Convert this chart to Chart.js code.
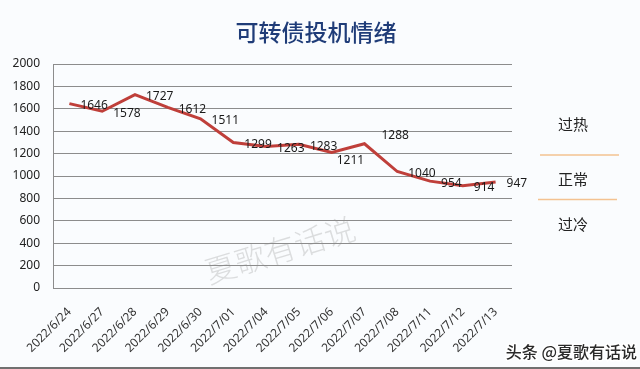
<!DOCTYPE html>
<html>
<head>
<meta charset="utf-8">
<script src="https://cdn.jsdelivr.net/npm/chart.js@4.4.1/dist/chart.umd.min.js"></script>
<style>
  html, body { margin: 0; padding: 0; background: #fafcfe; }
  #wrap { width: 640px; height: 369px; position: relative; }
</style>
</head>
<body>
<div id="wrap"><canvas id="c" width="640" height="369"></canvas></div>
<script>
const chartTitle = '可转债投机情绪';
const categories = ['2022/6/24','2022/6/27','2022/6/28','2022/6/29','2022/6/30','2022/7/01','2022/7/04','2022/7/05','2022/7/06','2022/7/07','2022/7/08','2022/7/11','2022/7/12','2022/7/13'];
const values = [1646, 1578, 1727, 1612, 1511, 1299, 1263, 1283, 1211, 1288, 1040, 954, 914, 947];
const yMin = 0;
const yMax = 2000;
const yStep = 200;
const zoneLabels = ['过热', '正常', '过冷'];
const watermark = '夏歌有话说';
const brand = '头条 @夏歌有话说';

const CJK = '"Noto Sans CJK SC", "Noto Sans", sans-serif';
const LAT = '"Noto Sans", "DejaVu Sans", sans-serif';

// per-label nudges for readability (label placement only)
const labelNudge = { 8: [-6, 6], 9: [6, -10] };

const decor = {
  id: 'decor',
  beforeDraw(chart) {
    const ctx = chart.ctx;
    ctx.save();
    ctx.fillStyle = '#fafcfe';
    ctx.fillRect(0, 0, chart.width, chart.height);
    // watermark
    ctx.translate(280, 250);
    ctx.rotate(-17 * Math.PI / 180);
    ctx.font = '300 31px ' + CJK;
    ctx.fillStyle = 'rgba(150,150,150,0.30)';
    ctx.textAlign = 'center';
    ctx.textBaseline = 'middle';
    ctx.fillText(watermark, 0, 0);
    ctx.restore();
  },
  afterDatasetsDraw(chart) {
    const ctx = chart.ctx;
    const meta = chart.getDatasetMeta(0);
    ctx.save();
    ctx.font = '12px ' + LAT;
    ctx.fillStyle = '#1a1a1a';
    ctx.textAlign = 'left';
    ctx.textBaseline = 'middle';
    meta.data.forEach((pt, i) => {
      const n = labelNudge[i] || [0, 0];
      ctx.fillText(String(values[i]), pt.x + 11 + n[0], pt.y + 2 + n[1]);
    });
    ctx.restore();
  },
  afterDraw(chart) {
    const ctx = chart.ctx;
    ctx.save();
    // title
    ctx.font = '500 23px ' + CJK;
    ctx.fillStyle = '#1f3c78';
    ctx.textAlign = 'center';
    ctx.textBaseline = 'middle';
    ctx.fillText(chartTitle, 316, 32);
    // zone labels on the right
    ctx.font = '15px ' + CJK;
    ctx.fillStyle = '#222';
    ctx.fillText(zoneLabels[0], 573, 124);
    ctx.fillText(zoneLabels[1], 573, 179);
    ctx.fillText(zoneLabels[2], 573, 224);
    ctx.strokeStyle = '#f4c291';
    ctx.lineWidth = 1.5;
    ctx.beginPath();
    ctx.moveTo(540, 155); ctx.lineTo(619, 155);
    ctx.moveTo(538, 199.5); ctx.lineTo(617, 199.5);
    ctx.stroke();
    // brand
    ctx.font = '500 16px ' + CJK;
    ctx.textAlign = 'right';
    ctx.lineWidth = 3;
    ctx.strokeStyle = 'rgba(255,255,255,0.9)';
    ctx.strokeText(brand, 637, 352);
    ctx.fillStyle = '#2a2a2a';
    ctx.fillText(brand, 637, 352);
    // bottom rule
    ctx.fillStyle = '#707070';
    ctx.fillRect(0, 367, chart.width, 2);
    ctx.restore();
  }
};

new Chart(document.getElementById('c'), {
  type: 'line',
  data: {
    labels: categories,
    datasets: [{
      data: values,
      borderColor: '#bf3f3a',
      borderWidth: 3,
      pointRadius: 0,
      pointHoverRadius: 0,
      tension: 0,
      fill: false
    }]
  },
  options: {
    responsive: false,
    animation: false,
    devicePixelRatio: 1,
    layout: { padding: { left: 0, right: 128, top: 64, bottom: 0 } },
    plugins: {
      legend: { display: false },
      tooltip: { enabled: false },
      title: { display: false }
    },
    scales: {
      x: {
        offset: true,
        grid: { display: false },
        border: { display: false },
        ticks: {
          color: '#333',
          font: { family: LAT, size: 12 },
          minRotation: 45,
          maxRotation: 45,
          autoSkip: false,
          padding: 9
        },
        afterFit(scale) { scale.height = 81; }
      },
      y: {
        min: yMin,
        max: yMax,
        grid: { color: '#8c8c8c', lineWidth: 1, drawTicks: false },
        border: { display: true, color: '#8c8c8c', width: 1 },
        ticks: {
          stepSize: yStep,
          color: '#222',
          font: { family: LAT, size: 12 },
          padding: 13,
          callback: (v) => String(v)
        },
        afterFit(scale) { scale.width = 53; }
      }
    }
  },
  plugins: [decor]
});
</script>
</body>
</html>
